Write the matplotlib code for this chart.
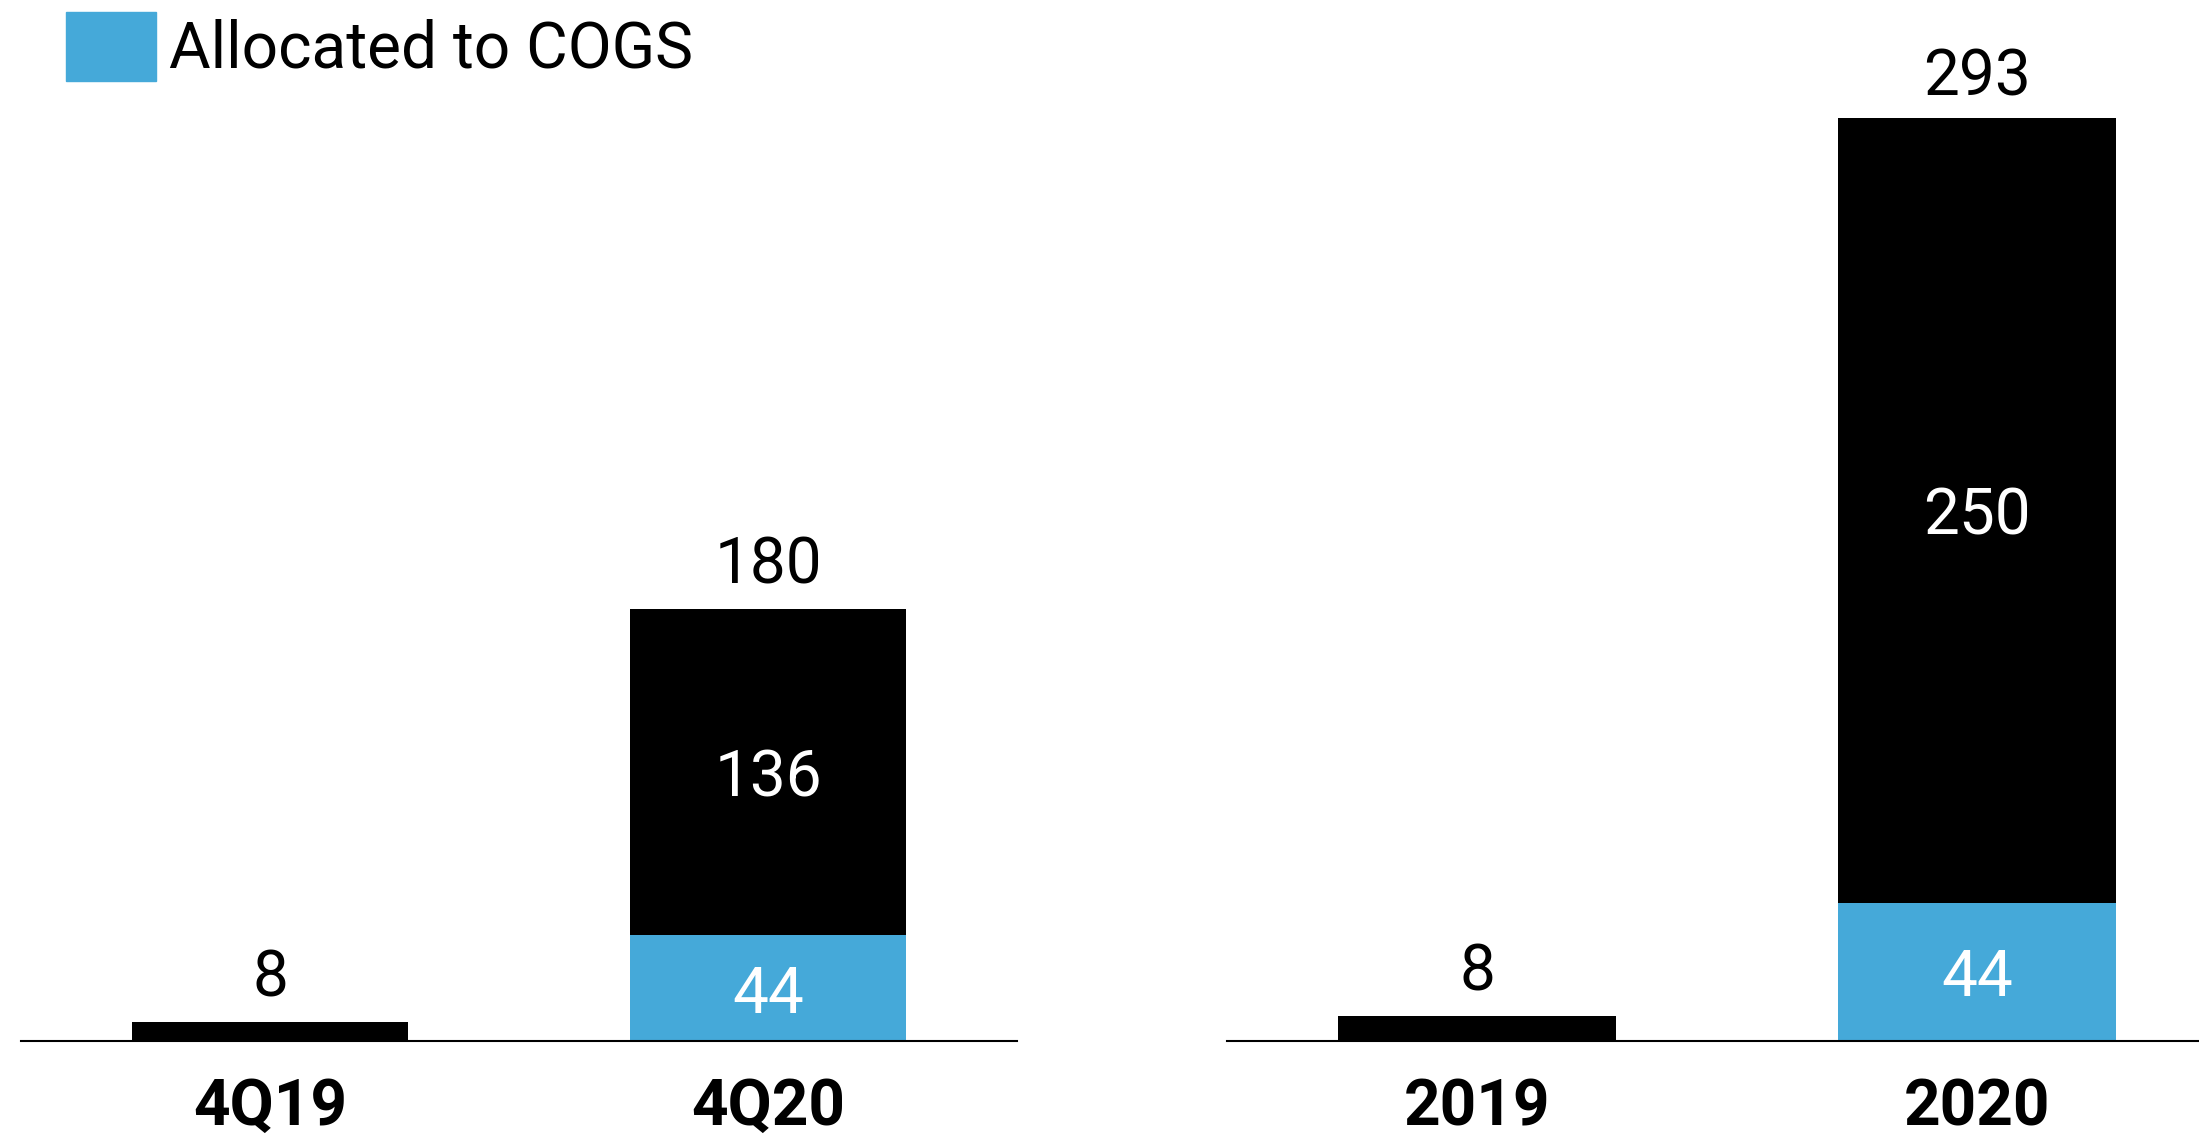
import matplotlib.pyplot as plt
from matplotlib.patches import Patch

plt.rcParams['font.family'] = ['Roboto', 'DejaVu Sans']

# quarterly panel
quarters = ['4Q19', '4Q20']
q_cogs = [0, 44]
q_other = [8, 136]
q_total = [8, 180]

# full-year panel
years = ['2019', '2020']
y_cogs = [0, 44]
y_other = [8, 250]
y_total = [8, 293]

BLUE = '#45A9D9'
W, H = 2199, 1136

fig = plt.figure(figsize=(W / 100, H / 100), dpi=100)


def px_axes(x0, x1, base):
    # axes from pixel extents, measured from the top-left corner
    return fig.add_axes([x0 / W, (H - base) / H, (x1 - x0) / W, base / H])


def draw_panel(ax, cats, cogs, other, total, ymax, xmax):
    x = range(len(cats))
    ax.bar(x, other, width=0.556, bottom=cogs, color='black', linewidth=0)
    ax.bar(x, cogs, width=0.556, color=BLUE, linewidth=0)
    for i in x:
        ax.annotate(str(total[i]), (i, total[i]), xytext=(0, 9),
                    textcoords='offset points', ha='center', va='bottom',
                    fontsize=46, color='black')
        if cogs[i] > 0:
            ax.text(i, cogs[i] / 2, str(cogs[i]), ha='center',
                    va='center_baseline', fontsize=46, color='white')
            ax.text(i, cogs[i] + other[i] / 2, str(other[i]), ha='center',
                    va='center_baseline', fontsize=46, color='white')
    ax.set_xlim(-0.5, xmax)
    ax.set_ylim(0, ymax)
    ax.set_xticks(list(x))
    ax.set_xticklabels(cats, fontsize=46, fontweight='bold')
    ax.tick_params(axis='x', length=0, pad=26)
    ax.set_yticks([])
    for side in ['top', 'right', 'left']:
        ax.spines[side].set_visible(False)
    ax.spines['bottom'].set_linewidth(1.5)


ax1 = px_axes(21, 1017, 1041)
draw_panel(ax1, quarters, q_cogs, q_other, q_total, 434, 1.5)

ax2 = px_axes(1227, 2199, 1041)
draw_panel(ax2, years, y_cogs, y_other, y_total, 331.5, 1.444)

fig.legend(handles=[Patch(color=BLUE, label='Allocated to COGS')],
           loc='upper left', bbox_to_anchor=(66 / W, 1 - 12 / H),
           frameon=False, fontsize=46, handlelength=1.41, handleheight=1.28,
           handletextpad=0.2, borderpad=0, borderaxespad=0)

fig.savefig('out.png', dpi=100)
